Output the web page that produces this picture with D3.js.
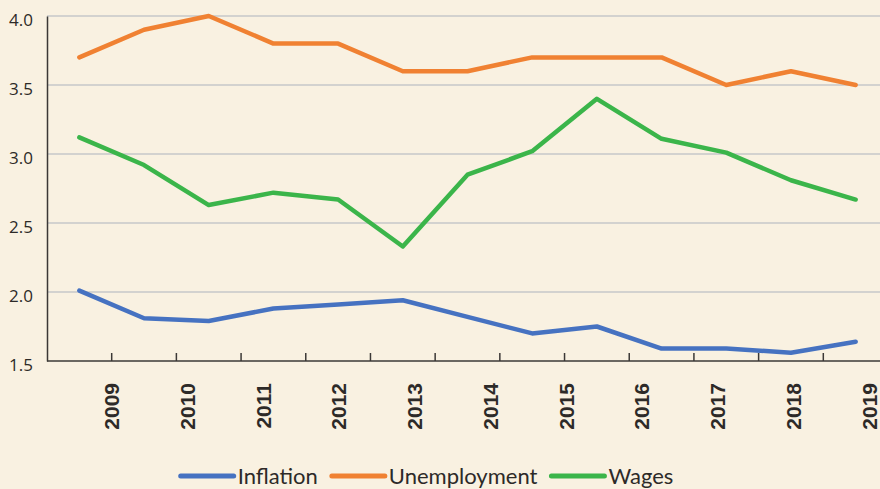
<!DOCTYPE html>
<html>
<head>
<meta charset="utf-8">
<script src="https://cdn.jsdelivr.net/npm/d3@7/dist/d3.min.js"></script>
<style>
	html, body { margin: 0; padding: 0; background: #f9f1e1; }
	svg { display: block; }
</style>
</head>
<body>
<div id="chart"></div>
<script>
var periods = [0, 1, 2, 3, 4, 5, 6, 7, 8, 9, 10, 11, 12];
var yearLabels = ["2009", "2010", "2011", "2012", "2013", "2014", "2015", "2016", "2017", "2018", "2019"];
var yTicks = [1.5, 2.0, 2.5, 3.0, 3.5, 4.0];
var inflation = [2.01, 1.81, 1.79, 1.88, 1.91, 1.94, 1.82, 1.70, 1.75, 1.59, 1.59, 1.56, 1.64];
var unemployment = [3.7, 3.9, 4.0, 3.8, 3.8, 3.6, 3.6, 3.7, 3.7, 3.7, 3.5, 3.6, 3.5];
var wages = [3.12, 2.92, 2.63, 2.72, 2.67, 2.33, 2.85, 3.02, 3.40, 3.11, 3.01, 2.81, 2.67];
var seriesNames = ["Inflation", "Unemployment", "Wages"];
var seriesColors = ["#4672c1", "#f08132", "#3bb54a"];

var width = 880;
var height = 489;
var margin = {top: 16, left: 47, bottom: 128};

var series = [inflation, unemployment, wages];

var svg = d3.select("#chart").append("svg")
	.attr("width", width)
	.attr("height", height);

svg.append("rect")
	.attr("width", width)
	.attr("height", height)
	.attr("fill", "#f9f1e1");

var x_scale = d3.scaleBand()
	.domain(periods)
	.range([margin.left, margin.left + 841]);

var y_scale = d3.scaleLinear()
	.domain([1.5, 4.0])
	.range([height - margin.bottom, margin.top]);

// year labels are spread on their own, like in the original
var label_scale = d3.scalePoint()
	.domain(yearLabels)
	.range([margin.left + x_scale.step(), width - 11]);

// grid lines
svg.append("g")
	.attr("class", "grid_lines")
	.selectAll("line")
	.data(yTicks.slice(1))
	.enter()
	.append("line")
	.attr("x1", margin.left)
	.attr("x2", width)
	.attr("y1", function(d) { return y_scale(d); })
	.attr("y2", function(d) { return y_scale(d); })
	.attr("stroke", "#d3d2cf")
	.attr("stroke-width", 2.2);

// y axis
var svg_yAxis = d3.axisLeft(y_scale)
	.tickValues(yTicks)
	.tickSize(0)
	.tickFormat(d3.format(".1f"));
var y_axis = svg.append("g")
	.attr("class", "y_axis")
	.attr("transform", "translate(" + margin.left + ",0)")
	.call(svg_yAxis);
y_axis.select(".domain")
	.attr("stroke", "#3b3836")
	.attr("stroke-width", 1.5);
y_axis.selectAll(".tick text")
	.attr("x", -14)
	.attr("dy", "0.55em")
	.attr("fill", "#2d2a28")
	.style("font-family", "'Open Sans', sans-serif")
	.style("font-size", "17px");

// x axis: ticks between bands, pointing up
var bandEdges = periods.slice(1).map(function(p) { return x_scale(p); });
var x_axis = svg.append("g").attr("class", "x_axis");
x_axis.append("line")
	.attr("x1", margin.left)
	.attr("x2", width)
	.attr("y1", y_scale(1.5))
	.attr("y2", y_scale(1.5))
	.attr("stroke", "#3b3836")
	.attr("stroke-width", 1.5);
x_axis.selectAll("line.tick")
	.data(bandEdges)
	.enter()
	.append("line")
	.attr("class", "tick")
	.attr("x1", function(d) { return d; })
	.attr("x2", function(d) { return d; })
	.attr("y1", y_scale(1.5))
	.attr("y2", y_scale(1.5) - 8)
	.attr("stroke", "#3b3836")
	.attr("stroke-width", 1.5);

x_axis.selectAll("text")
	.data(yearLabels)
	.enter()
	.append("text")
	.attr("transform", function(d) {
		return "translate(" + label_scale(d) + "," + (y_scale(1.5) + 22) + ") rotate(-90)";
	})
	.attr("text-anchor", "end")
	.attr("dy", "0.36em")
	.attr("fill", "#2d2a28")
	.style("font-family", "'Liberation Sans', Arial, sans-serif")
	.style("font-weight", "bold")
	.style("font-size", "21px")
	.text(function(d) { return d; });

// lines
var line = d3.line()
	.x(function(d, i) { return x_scale(periods[i]) + x_scale.bandwidth() / 2; })
	.y(function(d) { return y_scale(d); });

svg.selectAll("path.series")
	.data(series)
	.enter()
	.append("path")
	.attr("class", "series")
	.attr("d", line)
	.attr("fill", "none")
	.attr("stroke", function(d, i) { return seriesColors[i]; })
	.attr("stroke-width", 4.5)
	.attr("stroke-linejoin", "round")
	.attr("stroke-linecap", "round");

// legend
var legend = svg.append("g").attr("class", "legend");
var legendY = 476;
var swatch = 53;
var cursor = 0;
seriesNames.forEach(function(name, i) {
	var item = legend.append("g").attr("transform", "translate(" + cursor + ",0)");
	item.append("line")
		.attr("x1", 0)
		.attr("x2", swatch)
		.attr("y1", legendY)
		.attr("y2", legendY)
		.attr("stroke", seriesColors[i])
		.attr("stroke-width", 5)
		.attr("stroke-linecap", "round");
	var t = item.append("text")
		.attr("x", swatch + 4)
		.attr("y", legendY)
		.attr("dy", "0.37em")
		.attr("fill", "#2d2a28")
		.style("font-family", "Lato, sans-serif")
		.style("font-size", "22px")
		.text(name);
	cursor += swatch + 4 + t.node().getComputedTextLength() + 14;
});
var legendWidth = cursor - 14;
legend.attr("transform", "translate(" + (427 - legendWidth / 2) + ",0)");
</script>
</body>
</html>
